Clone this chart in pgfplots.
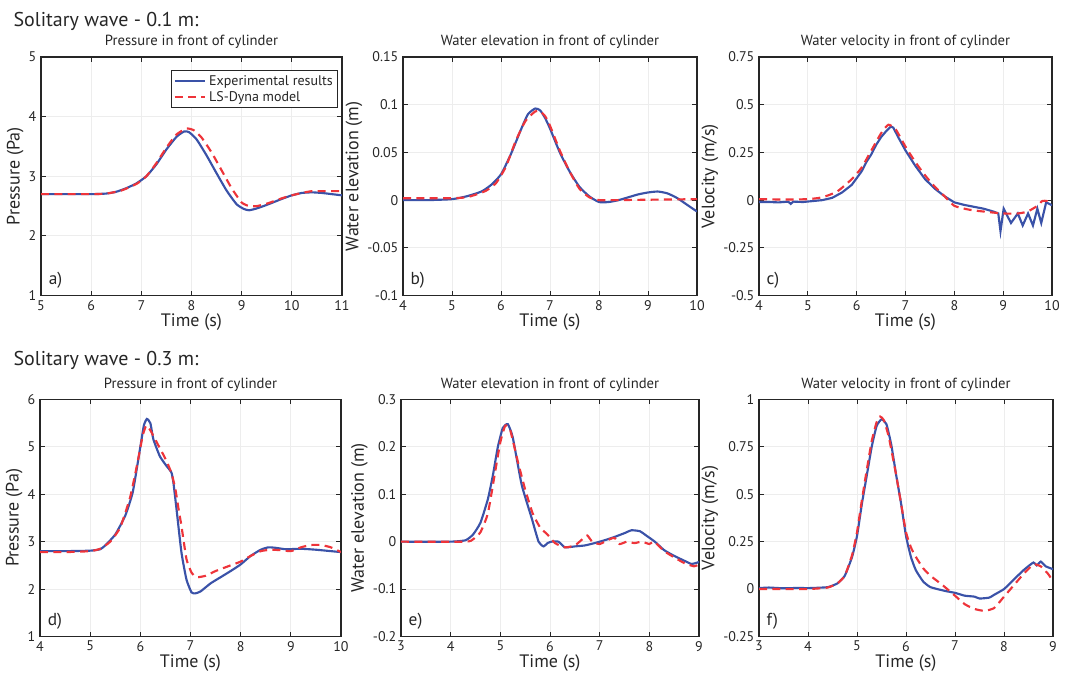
\documentclass[border=0pt]{standalone}
\usepackage{pgfplots}
\pgfplotsset{compat=1.18}
\usepackage{fontspec}
\setmainfont{PT Sans}
\definecolor{expblue}{RGB}{58,82,168}
\definecolor{lsred}{RGB}{238,52,58}
\definecolor{axdark}{RGB}{38,38,38}

\tikzset{
  exp/.style={expblue,line width=1.6pt},
  lsd/.style={lsred,line width=1.6pt,dash pattern=on 6pt off 4pt},
  lett/.style={font=\fontsize{13}{15}\selectfont,text=axdark,anchor=south west,inner sep=0pt},
}
\pgfplotsset{
  panel/.style={
    scale only axis,
    anchor=south west,
    axis line style={axdark,line width=0.9pt},
    tick align=inside, tick pos=both,
    major tick length=3.5pt,
    tick style={axdark,line width=0.7pt},
    grid=major, grid style={gray!14,line width=0.6pt},
    scaled ticks=false,
    /pgf/number format/assume math mode=true,
    ticklabel style={font=\fontsize{10.5}{12}\selectfont,text=axdark},
    yticklabel style={/pgf/number format/fixed,/pgf/number format/precision=2},
    label style={font=\fontsize{13.5}{15}\selectfont,text=axdark},
    title style={font=\fontsize{11}{13}\selectfont,text=axdark,yshift=-3.5pt},
    xlabel={Time (s)},
    xlabel style={yshift=4.5pt},
    ylabel style={yshift=-3pt},
    clip=true,
  },
}

\begin{document}
\begin{tikzpicture}
\path[use as bounding box] (0,0) rectangle (799.5pt,507.75pt);

\node[anchor=base west,inner sep=0pt,font=\fontsize{15}{17}\selectfont,text=axdark] at (10pt,487.5pt) {Solitary wave - 0.1 m:};
\node[anchor=base west,inner sep=0pt,font=\fontsize{15}{17}\selectfont,text=axdark] at (10pt,233.25pt) {Solitary wave - 0.3 m:};

% a) pressure, 0.1 m
\begin{axis}[panel, at={(30.75pt,286.1pt)}, width=225.75pt, height=178.9pt,
  xmin=5, xmax=11, ymin=1, ymax=5, xtick={5,...,11}, ytick={1,...,5},
  title={Pressure in front of cylinder}, ylabel={Pressure (Pa)},
  legend cell align=left,
  legend style={at={(0.987,0.946)},anchor=north east,draw=axdark,line width=0.9pt,
    font=\fontsize{10.5}{12}\selectfont,text=axdark,inner sep=1.5pt,row sep=-1pt,
    /tikz/every even column/.append style={column sep=2pt}},
  legend image code/.code={\draw[#1] (0pt,0pt) -- (23pt,0pt);}]
\addplot[exp,smooth,tension=0.35] coordinates {(5.0,2.70)(5.5,2.70)(6.0,2.70)(6.3,2.71)(6.5,2.74)(6.7,2.80)(6.9,2.88)(7.1,3.00)(7.3,3.20)(7.5,3.45)(7.7,3.66)(7.85,3.75)(7.95,3.74)(8.1,3.62)(8.3,3.35)(8.5,3.05)(8.7,2.76)(8.9,2.53)(9.05,2.45)(9.15,2.43)(9.3,2.46)(9.5,2.52)(9.8,2.62)(10.0,2.68)(10.2,2.72)(10.4,2.73)(10.6,2.72)(10.8,2.70)(11.0,2.68)};
\addplot[lsd,smooth,tension=0.35] coordinates {(5.0,2.70)(6.0,2.70)(6.3,2.71)(6.6,2.76)(6.9,2.87)(7.1,3.00)(7.3,3.22)(7.5,3.48)(7.7,3.70)(7.9,3.80)(8.05,3.77)(8.2,3.65)(8.4,3.40)(8.6,3.10)(8.8,2.80)(9.0,2.56)(9.15,2.50)(9.3,2.50)(9.5,2.54)(9.8,2.63)(10.0,2.68)(10.2,2.72)(10.4,2.75)(10.7,2.75)(11.0,2.75)};
\legend{Experimental results, LS-Dyna model}
\node[lett] at (rel axis cs:0.025,0.03) {a)};
\end{axis}

% b) water elevation, 0.1 m
\begin{axis}[panel, at={(302.25pt,286.1pt)}, width=220.5pt, height=178.9pt,
  xmin=4, xmax=10, ymin=-0.1, ymax=0.15, xtick={4,...,10}, ytick={-0.1,-0.05,0,0.05,0.1,0.15},
  title={Water elevation in front of cylinder}, ylabel={Water elevation (m)}]
\addplot[exp,smooth,tension=0.35] coordinates {(4.0,0.0)(4.5,0.0)(5.0,0.001)(5.3,0.004)(5.6,0.009)(5.8,0.016)(6.0,0.027)(6.2,0.048)(6.4,0.073)(6.55,0.09)(6.7,0.096)(6.8,0.094)(6.9,0.086)(7.0,0.075)(7.2,0.05)(7.4,0.03)(7.6,0.014)(7.8,0.004)(8.0,-0.002)(8.2,-0.002)(8.4,0.0)(8.6,0.003)(8.8,0.006)(9.0,0.008)(9.2,0.009)(9.4,0.007)(9.6,0.002)(9.8,-0.005)(10.0,-0.012)};
\addplot[lsd,smooth,tension=0.35] coordinates {(4.0,0.002)(5.0,0.002)(5.3,0.003)(5.5,0.006)(5.7,0.01)(5.9,0.018)(6.1,0.035)(6.3,0.062)(6.5,0.083)(6.7,0.093)(6.8,0.093)(6.9,0.088)(7.0,0.078)(7.2,0.052)(7.4,0.03)(7.6,0.012)(7.8,0.003)(8.0,0.0)(8.3,0.0)(10.0,0.001)};
\node[lett] at (rel axis cs:0.025,0.03) {b)};
\end{axis}

% c) water velocity, 0.1 m
\begin{axis}[panel, at={(569.25pt,286.1pt)}, width=219.75pt, height=178.9pt,
  xmin=4, xmax=10, ymin=-0.5, ymax=0.75, xtick={4,...,10}, ytick={-0.5,-0.25,0,0.25,0.5,0.75},
  title={Water velocity in front of cylinder}, ylabel={Velocity (m/s)}]
\addplot[exp] coordinates {(4.0,-0.01)(4.2,-0.01)(4.4,-0.012)(4.6,-0.008)(4.65,-0.02)(4.7,-0.008)(4.9,-0.01)(5.1,-0.005)(5.3,0.0)(5.5,0.012)(5.7,0.04)(5.9,0.08)(6.0,0.115)(6.1,0.15)(6.2,0.2)(6.3,0.24)(6.4,0.29)(6.5,0.33)(6.6,0.36)(6.7,0.385)(6.75,0.38)(6.85,0.33)(7.0,0.26)(7.2,0.18)(7.4,0.11)(7.6,0.06)(7.8,0.02)(8.0,-0.012)(8.2,-0.025)(8.4,-0.035)(8.6,-0.045)(8.8,-0.06)(8.9,-0.07)(8.945,-0.163)(9.01,-0.045)(9.16,-0.12)(9.30,-0.07)(9.40,-0.133)(9.51,-0.07)(9.61,-0.133)(9.70,-0.045)(9.78,-0.12)(9.88,-0.012)(10.0,-0.027)};
\addplot[lsd,smooth,tension=0.35] coordinates {(4.0,0.005)(4.5,0.003)(5.0,0.005)(5.3,0.015)(5.6,0.045)(5.9,0.11)(6.1,0.17)(6.3,0.26)(6.5,0.35)(6.65,0.395)(6.8,0.37)(7.0,0.28)(7.2,0.2)(7.4,0.13)(7.6,0.07)(7.8,0.02)(8.0,-0.03)(8.3,-0.05)(8.6,-0.06)(9.0,-0.07)(9.3,-0.07)(9.5,-0.06)(9.7,-0.03)(9.8,-0.005)(9.9,-0.005)(10.0,-0.02)};
\node[lett] at (rel axis cs:0.025,0.03) {c)};
\end{axis}

% d) pressure, 0.3 m
\begin{axis}[panel, at={(30pt,30.4pt)}, width=225.75pt, height=177.75pt,
  xmin=4, xmax=10, ymin=1, ymax=6, xtick={4,...,10}, ytick={1,...,6},
  title={Pressure in front of cylinder}, ylabel={Pressure (Pa)}]
\addplot[exp,smooth,tension=0.3] coordinates {(4.0,2.80)(4.5,2.80)(5.0,2.81)(5.2,2.84)(5.3,2.92)(5.5,3.15)(5.7,3.55)(5.85,4.05)(6.0,5.0)(6.07,5.45)(6.13,5.59)(6.2,5.5)(6.26,5.16)(6.39,4.8)(6.52,4.6)(6.62,4.46)(6.66,4.24)(6.72,3.7)(6.82,2.77)(6.92,2.2)(7.02,1.93)(7.1,1.91)(7.2,1.95)(7.4,2.12)(7.6,2.25)(7.8,2.38)(8.0,2.52)(8.2,2.7)(8.4,2.83)(8.55,2.88)(8.7,2.87)(8.9,2.84)(9.2,2.85)(9.5,2.83)(9.8,2.80)(10.0,2.78)};
\addplot[lsd,smooth,tension=0.3] coordinates {(4.0,2.78)(4.5,2.78)(5.0,2.80)(5.2,2.85)(5.4,3.0)(5.6,3.3)(5.8,3.95)(5.95,4.7)(6.05,5.25)(6.12,5.45)(6.2,5.35)(6.35,5.05)(6.5,4.75)(6.62,4.45)(6.7,4.1)(6.76,3.7)(6.82,3.33)(6.92,2.63)(7.02,2.35)(7.12,2.25)(7.3,2.28)(7.5,2.38)(7.8,2.5)(8.0,2.58)(8.2,2.7)(8.4,2.8)(8.6,2.83)(8.8,2.82)(9.0,2.8)(9.2,2.88)(9.4,2.93)(9.6,2.93)(9.8,2.88)(10.0,2.78)};
\node[lett] at (rel axis cs:0.025,0.03) {d)};
\end{axis}

% e) water elevation, 0.3 m
\begin{axis}[panel, at={(300.75pt,30.4pt)}, width=223.5pt, height=177.75pt,
  xmin=3, xmax=9, ymin=-0.2, ymax=0.3, xtick={3,...,9}, ytick={-0.2,-0.1,0,0.1,0.2,0.3},
  title={Water elevation in front of cylinder}, ylabel={Water elevation (m)}]
\addplot[exp,smooth,tension=0.3] coordinates {(3.0,0.0)(4.0,0.0)(4.3,0.003)(4.45,0.015)(4.6,0.04)(4.75,0.09)(4.85,0.14)(4.95,0.2)(5.05,0.24)(5.15,0.248)(5.25,0.22)(5.43,0.12)(5.63,0.05)(5.77,0.0)(5.87,-0.01)(5.95,-0.003)(6.03,0.0)(6.17,0.0)(6.3,-0.012)(6.5,-0.01)(6.7,-0.008)(6.9,-0.003)(7.1,0.003)(7.3,0.01)(7.5,0.018)(7.64,0.024)(7.81,0.022)(7.95,0.012)(8.11,0.0)(8.3,-0.018)(8.5,-0.03)(8.7,-0.04)(8.85,-0.047)(9.0,-0.043)};
\addplot[lsd,smooth,tension=0.3] coordinates {(3.0,0.0)(4.3,0.0)(4.45,0.005)(4.6,0.02)(4.75,0.06)(4.9,0.15)(5.0,0.21)(5.1,0.245)(5.2,0.235)(5.35,0.17)(5.5,0.11)(5.65,0.06)(5.8,0.03)(5.95,0.015)(6.1,-0.003)(6.3,-0.012)(6.5,-0.008)(6.65,0.005)(6.75,0.013)(6.85,0.0)(7.0,-0.005)(7.2,0.005)(7.3,0.008)(7.4,-0.005)(7.55,0.0)(7.7,-0.003)(7.85,0.0)(8.0,-0.005)(8.1,0.0)(8.3,-0.02)(8.5,-0.033)(8.7,-0.045)(8.9,-0.052)(9.0,-0.048)};
\node[lett] at (rel axis cs:0.025,0.03) {e)};
\end{axis}

% f) water velocity, 0.3 m
\begin{axis}[panel, at={(569.25pt,30.4pt)}, width=220.5pt, height=177.75pt,
  xmin=3, xmax=9, ymin=-0.25, ymax=1, xtick={3,...,9}, ytick={-0.25,0,0.25,0.5,0.75,1},
  title={Water velocity in front of cylinder}, ylabel={Velocity (m/s)}]
\addplot[exp,smooth,tension=0.3] coordinates {(3.0,0.005)(3.2,0.008)(3.5,0.004)(3.8,0.006)(4.0,0.005)(4.4,0.01)(4.6,0.03)(4.75,0.07)(4.9,0.17)(5.0,0.28)(5.1,0.45)(5.2,0.6)(5.3,0.75)(5.4,0.86)(5.5,0.895)(5.6,0.87)(5.7,0.76)(5.8,0.6)(5.9,0.45)(6.0,0.28)(6.1,0.17)(6.2,0.1)(6.35,0.04)(6.5,0.01)(6.8,-0.01)(7.0,-0.02)(7.2,-0.035)(7.4,-0.04)(7.5,-0.05)(7.7,-0.045)(7.8,-0.03)(8.0,0.0)(8.2,0.05)(8.4,0.1)(8.6,0.14)(8.67,0.125)(8.75,0.145)(8.85,0.12)(9.0,0.105)};
\addplot[lsd,smooth,tension=0.3] coordinates {(3.0,0.0)(3.5,0.0)(4.0,0.0)(4.4,0.008)(4.6,0.03)(4.75,0.07)(4.9,0.18)(5.0,0.3)(5.1,0.47)(5.2,0.63)(5.3,0.78)(5.4,0.88)(5.47,0.91)(5.55,0.89)(5.65,0.8)(5.8,0.6)(5.9,0.45)(6.0,0.3)(6.1,0.22)(6.2,0.17)(6.35,0.11)(6.5,0.07)(6.75,0.02)(7.0,-0.035)(7.2,-0.08)(7.4,-0.105)(7.6,-0.115)(7.8,-0.1)(8.0,-0.04)(8.2,0.02)(8.4,0.08)(8.6,0.13)(8.75,0.12)(8.9,0.08)(9.0,0.04)};
\node[lett] at (rel axis cs:0.025,0.03) {f)};
\end{axis}
\end{tikzpicture}
\end{document}
